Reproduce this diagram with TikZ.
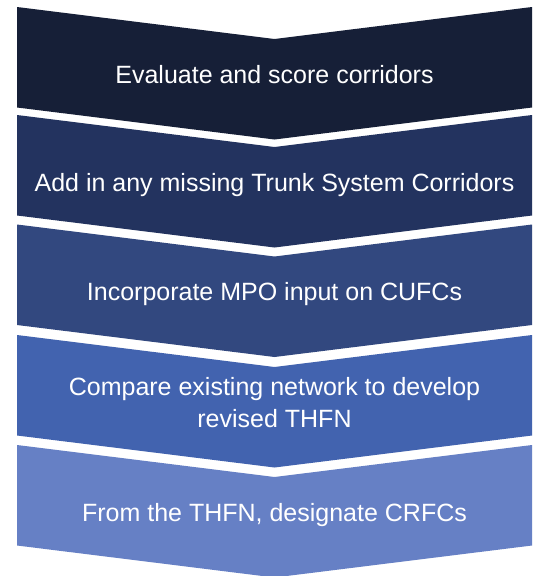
\documentclass[tikz,border=0pt]{standalone}
\usepackage{fontspec}
\setmainfont{Liberation Sans}
\definecolor{stepA}{HTML}{161F37}
\definecolor{stepB}{HTML}{23335F}
\definecolor{stepC}{HTML}{32487F}
\definecolor{stepD}{HTML}{4263AF}
\definecolor{stepE}{HTML}{6680C5}
% chevron: #1 top of the side edges, #2 fill colour
\newcommand{\chevronband}[2]{%
  \fill[#2] (17,#1) -- (274.5,#1+32) -- (532,#1) -- (532,#1+100.5)
    -- (274.5,#1+132.5) -- (17,#1+100.5) -- cycle;}
\begin{document}
\begin{tikzpicture}[x=1pt,y=-1pt,
  steptext/.style={text=white, anchor=base, align=center, inner sep=0pt,
    font=\fontsize{25}{32}\selectfont}]
\useasboundingbox[fill=white] (0,0) rectangle (535,576);
\chevronband{7}{stepA}
\chevronband{115}{stepB}
\chevronband{224.5}{stepC}
\chevronband{335}{stepD}
\chevronband{445}{stepE}
\node[steptext] (s1) at (274.5,83) {Evaluate and score corridors};
\node[steptext] (s2) at (274.5,191.5) {Add in any missing Trunk System Corridors};
\node[steptext] (s3) at (274.5,300.5) {Incorporate MPO input on CUFCs};
\node[steptext] (s4) at (274.5,427) {Compare existing network to develop\\revised THFN};
\node[steptext] (s5) at (274.5,521) {From the THFN, designate CRFCs};
\end{tikzpicture}
\end{document}
